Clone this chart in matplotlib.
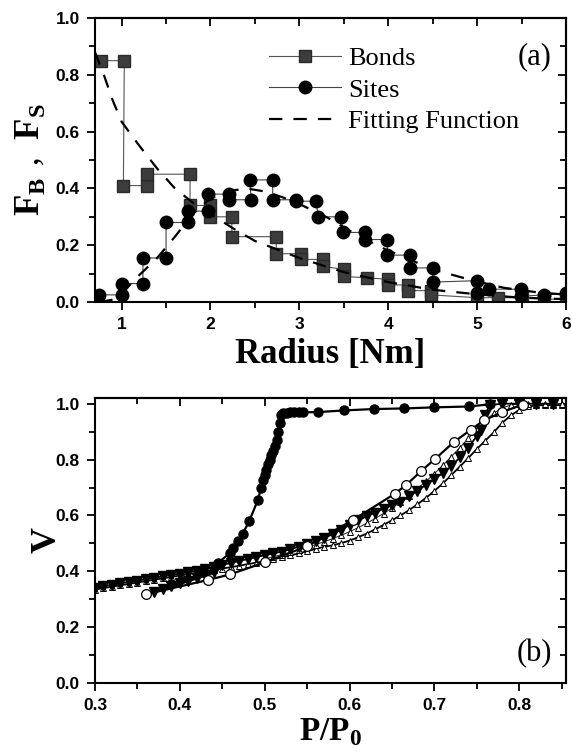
import matplotlib
matplotlib.use("Agg")
import matplotlib.pyplot as plt
from matplotlib.ticker import MultipleLocator, NullFormatter

plt.rcParams['mathtext.fontset'] = 'custom'
plt.rcParams['mathtext.rm'] = 'Liberation Serif'
plt.rcParams['mathtext.bf'] = 'Liberation Serif:bold'

# ---- panel (a): radius distributions ----
bonds_x = [0.77, 1.03, 1.02, 1.29, 1.29, 1.77, 1.77, 2.0, 2.0, 2.24, 2.24, 2.74, 2.74, 3.02, 3.02,
           3.27, 3.27, 3.5, 3.5, 3.76, 4.0, 4.0, 4.22, 4.22, 4.48, 4.48, 5.0, 5.24, 5.5, 5.75, 6.0]
bonds_y = [0.85, 0.85, 0.41, 0.41, 0.45, 0.45, 0.34, 0.34, 0.30, 0.30, 0.23, 0.23, 0.17, 0.17, 0.15,
           0.15, 0.125, 0.115, 0.09, 0.085, 0.08, 0.06, 0.06, 0.04, 0.04, 0.025, 0.015, 0.015, 0.015, 0.01, 0.01]

sites_x = [0.75, 1.0, 1.0, 1.24, 1.24, 1.5, 1.5, 1.75, 1.75, 1.97, 1.97, 2.21, 2.21, 2.46, 2.44, 2.7,
           2.7, 2.96, 2.96, 3.19, 3.21, 3.47, 3.49, 3.74, 3.74, 3.99, 3.99, 4.24, 4.25, 4.5, 4.5, 5.0,
           5.0, 5.13, 5.49, 5.49, 5.75, 6.0]
sites_y = [0.025, 0.025, 0.065, 0.065, 0.155, 0.155, 0.28, 0.28, 0.32, 0.32, 0.38, 0.38, 0.36, 0.36,
           0.43, 0.43, 0.36, 0.36, 0.355, 0.355, 0.30, 0.30, 0.245, 0.245, 0.22, 0.22, 0.165, 0.165,
           0.12, 0.12, 0.07, 0.075, 0.03, 0.045, 0.045, 0.02, 0.025, 0.03]

bfit_x = [0.7, 0.8, 0.9, 1.0, 1.2, 1.4, 1.6, 1.8, 2.0, 2.25, 2.5, 2.75, 3.0, 3.5, 4.0, 4.5, 5.0, 5.5, 6.0]
bfit_y = [0.88, 0.80, 0.71, 0.635, 0.55, 0.47, 0.40, 0.35, 0.31, 0.26, 0.215, 0.185, 0.155, 0.105,
          0.07, 0.043, 0.027, 0.015, 0.01]

sfit_x = [0.75, 0.9, 1.0, 1.2, 1.4, 1.6, 1.8, 2.0, 2.2, 2.4, 2.6, 2.8, 3.0, 3.3, 3.6, 3.9, 4.2, 4.5,
          4.9, 5.3, 5.7, 6.0]
sfit_y = [0.0, 0.008, 0.03, 0.095, 0.155, 0.23, 0.31, 0.365, 0.39, 0.40, 0.39, 0.37, 0.345, 0.30,
          0.245, 0.195, 0.155, 0.115, 0.08, 0.05, 0.033, 0.026]

# ---- panel (b): isotherms ----
ads_x = [0.30, 0.31, 0.32, 0.33, 0.34, 0.35, 0.36, 0.37, 0.38, 0.39, 0.40, 0.41, 0.42, 0.43, 0.44,
         0.45, 0.46, 0.47, 0.48, 0.49, 0.50, 0.51, 0.52, 0.53, 0.54, 0.55, 0.56, 0.57, 0.58, 0.59,
         0.60, 0.61, 0.62, 0.63, 0.64, 0.65, 0.66, 0.67, 0.68, 0.69, 0.70, 0.71, 0.72, 0.73, 0.74,
         0.75, 0.76, 0.77, 0.78, 0.79, 0.80, 0.81, 0.82, 0.83, 0.84, 0.85]
ads_y = [0.335, 0.340, 0.345, 0.350, 0.355, 0.360, 0.365, 0.370, 0.375, 0.380, 0.385, 0.390, 0.395,
         0.400, 0.405, 0.410, 0.415, 0.420, 0.426, 0.431, 0.437, 0.443, 0.450, 0.457, 0.464, 0.472,
         0.480, 0.488, 0.493, 0.501, 0.510, 0.522, 0.535, 0.550, 0.566, 0.583, 0.600, 0.619, 0.640,
         0.663, 0.688, 0.715, 0.745, 0.775, 0.806, 0.838, 0.868, 0.898, 0.932, 0.958, 0.978, 0.990,
         0.994, 0.995, 0.995, 0.995]

des_x = [0.50, 0.51, 0.52, 0.53, 0.54, 0.55, 0.56, 0.57, 0.58, 0.59, 0.60, 0.61, 0.62, 0.63, 0.64,
         0.65, 0.66, 0.67, 0.68, 0.69, 0.70, 0.71, 0.72, 0.73, 0.74, 0.75, 0.76, 0.77, 0.78, 0.79,
         0.80, 0.81, 0.82, 0.83, 0.84, 0.85]
des_y = [0.445, 0.452, 0.460, 0.468, 0.477, 0.486, 0.496, 0.506, 0.517, 0.529, 0.542, 0.556, 0.572,
         0.589, 0.607, 0.627, 0.648, 0.671, 0.696, 0.722, 0.750, 0.780, 0.811, 0.843, 0.876, 0.908,
         0.940, 0.966, 0.985, 0.995, 1.0, 1.0, 1.0, 1.0, 1.0, 1.0]

ftri_x = [0.30, 0.31, 0.32, 0.33, 0.34, 0.35, 0.36, 0.37, 0.38, 0.39, 0.40, 0.41, 0.42, 0.43, 0.44,
          0.45, 0.46, 0.47, 0.48, 0.49, 0.50, 0.51, 0.52, 0.53, 0.54, 0.55, 0.56, 0.57, 0.58, 0.59,
          0.60, 0.61, 0.62, 0.63, 0.64, 0.65, 0.66, 0.67, 0.68, 0.69, 0.70, 0.71, 0.72, 0.73, 0.74,
          0.75, 0.755, 0.76, 0.765, 0.78, 0.80, 0.82, 0.84]
ftri_y = [0.340, 0.346, 0.352, 0.357, 0.362, 0.367, 0.372, 0.377, 0.382, 0.387, 0.392, 0.397, 0.403,
          0.409, 0.416, 0.423, 0.430, 0.437, 0.444, 0.451, 0.458, 0.464, 0.471, 0.479, 0.488, 0.497,
          0.507, 0.519, 0.533, 0.549, 0.566, 0.582, 0.597, 0.610, 0.624, 0.636, 0.648, 0.668, 0.688,
          0.710, 0.730, 0.752, 0.777, 0.808, 0.843, 0.885, 0.905, 0.96, 0.995, 1.0, 1.0, 1.0, 1.0]

seg_x = [0.37, 0.38, 0.39, 0.40, 0.41, 0.42, 0.43, 0.44]
seg_y = [0.327, 0.337, 0.347, 0.357, 0.367, 0.377, 0.387, 0.397]

ocirc_x = [0.36, 0.433, 0.459, 0.50, 0.55, 0.604, 0.653, 0.667, 0.684, 0.701, 0.723, 0.743, 0.758,
           0.78, 0.804]
ocirc_y = [0.318, 0.369, 0.389, 0.432, 0.49, 0.584, 0.677, 0.71, 0.758, 0.803, 0.863, 0.907, 0.94,
           0.97, 0.997]

fcirc_x = [0.445, 0.459, 0.463, 0.469, 0.474, 0.482, 0.492, 0.496, 0.498, 0.500, 0.502, 0.504, 0.506,
           0.508, 0.510, 0.512, 0.514, 0.516, 0.518, 0.519, 0.521, 0.526, 0.530, 0.535, 0.540, 0.545,
           0.563, 0.594, 0.629, 0.664, 0.700, 0.741, 0.765]
fcirc_y = [0.431, 0.465, 0.483, 0.507, 0.534, 0.581, 0.656, 0.70, 0.728, 0.745, 0.763, 0.785, 0.80,
           0.815, 0.829, 0.85, 0.871, 0.9, 0.93, 0.96, 0.965, 0.968, 0.969, 0.969, 0.969, 0.969, 0.970,
           0.976, 0.981, 0.983, 0.987, 0.990, 0.998]

tick_font = {'family': 'Liberation Sans', 'weight': 'bold', 'size': 12.5}


def style_axes(ax):
    for s in ax.spines.values():
        s.set_linewidth(1.5)
    ax.tick_params(which='both', direction='out', width=1.3, top=False, right=False, pad=5)
    ax.tick_params(which='major', length=6)
    ax.tick_params(which='minor', length=4)
    for lab in ax.get_xticklabels() + ax.get_yticklabels():
        lab.set_fontproperties(matplotlib.font_manager.FontProperties(**tick_font))
    top = ax.secondary_xaxis('top')
    right = ax.secondary_yaxis('right')
    for sec, loc, other in ((top, ax.xaxis, top.xaxis), (right, ax.yaxis, right.yaxis)):
        sec.set_ticks(loc.get_majorticklocs())
        sec.set_ticks(loc.get_minorticklocs(), minor=True)
        sec.tick_params(which='both', direction='in', width=1.3)
        sec.tick_params(which='major', length=6)
        sec.tick_params(which='minor', length=4)
        other.set_major_formatter(NullFormatter())
        other.set_minor_formatter(NullFormatter())
        for s in sec.spines.values():
            s.set_linewidth(1.5)


fig = plt.figure(figsize=(5.72, 7.54), dpi=100)
ax1 = fig.add_axes([0.166, 0.5995, 0.8235, 0.3765])
ax2 = fig.add_axes([0.166, 0.094, 0.8235, 0.378])

# panel (a)
ax1.plot(bonds_x, bonds_y, '-', color='#555555', lw=0.8, marker='s', ms=8,
         mfc='#3c3c3c', mec='#2a2a2a', label='Bonds')
ax1.plot(sites_x, sites_y, '-', color='#444444', lw=0.8, marker='o', ms=9,
         mfc='black', mec='black', label='Sites')
ax1.plot(bfit_x, bfit_y, color='black', lw=1.6, dashes=(6, 5), label='Fitting Function')
ax1.plot(sfit_x, sfit_y, color='black', lw=1.6, dashes=(6, 5))
ax1.set_xlim(0.7, 6)
ax1.set_ylim(0, 1)
ax1.xaxis.set_major_locator(MultipleLocator(1))
ax1.xaxis.set_minor_locator(MultipleLocator(0.5))
ax1.yaxis.set_major_locator(MultipleLocator(0.2))
ax1.yaxis.set_minor_locator(MultipleLocator(0.1))
ax1.set_xlabel('Radius [Nm]', family='Liberation Serif', weight='bold', size=25, labelpad=4)
ax1.set_ylabel(r'$\mathbf{F}_{\mathbf{B}}\ ,\ \mathbf{F}_{\mathbf{S}}$', size=25, labelpad=6)
leg = ax1.legend(loc='upper right', bbox_to_anchor=(0.935, 0.955), frameon=False,
                 prop={'family': 'Liberation Serif', 'size': 19}, handlelength=2.7,
                 handletextpad=0.3, labelspacing=0.3, borderaxespad=0.2)
ax1.text(0.97, 0.865, '(a)', transform=ax1.transAxes, ha='right', va='center',
         family='Liberation Serif', size=22)
style_axes(ax1)

# panel (b)
ax2.plot(ads_x, ads_y, '-', color='black', lw=1.3, marker='^', ms=4.5, mfc='white', mec='black', mew=0.7)
ax2.plot(des_x, des_y, '-', color='#333333', lw=0.8, marker='^', ms=4.5, mfc='white', mec='black', mew=0.7)
ax2.plot(ftri_x, ftri_y, '-', color='black', lw=1.3, marker='v', ms=7, mfc='black', mec='black')
ax2.plot(seg_x, seg_y, '-', color='black', lw=2.5, marker='v', ms=6.5, mfc='black', mec='black')
ax2.plot(ocirc_x, ocirc_y, '-', color='black', lw=1.6, marker='o', ms=7, mfc='white', mec='black', mew=0.9)
ax2.plot(fcirc_x, fcirc_y, '-', color='black', lw=1.6, marker='o', ms=6.5, mfc='black', mec='black')
ax2.set_xlim(0.3, 0.855)
ax2.set_ylim(0, 1.02)
ax2.xaxis.set_major_locator(MultipleLocator(0.1))
ax2.xaxis.set_minor_locator(MultipleLocator(0.05))
ax2.yaxis.set_major_locator(MultipleLocator(0.2))
ax2.yaxis.set_minor_locator(MultipleLocator(0.1))
ax2.set_xlabel(r'$\mathbf{P/P}_{\mathbf{0}}$', size=24, labelpad=1)
ax2.set_ylabel(r'$\mathbf{V}$', size=26)
ax2.yaxis.set_label_coords(-0.068, 0.5)
ax2.text(0.97, 0.105, '(b)', transform=ax2.transAxes, ha='right', va='center',
         family='Liberation Serif', size=22)
style_axes(ax2)

fig.savefig('out.png', dpi=100)
